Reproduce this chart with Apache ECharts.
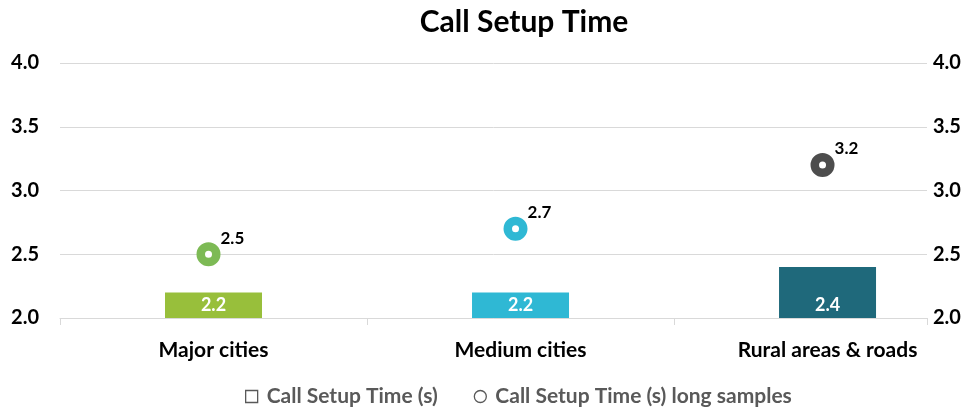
<!DOCTYPE html>
<html>
<head>
<meta charset="utf-8">
<script src="https://cdn.jsdelivr.net/npm/echarts@6/dist/echarts.min.js"></script>
<style>
  html, body { margin: 0; padding: 0; background: #fff; }
  #chart { width: 968px; height: 409px; }
</style>
</head>
<body>
<div id="chart"></div>
<script>
// data
var categories = ['Major cities', 'Medium cities', 'Rural areas & roads'];
var setupTime = [2.2, 2.2, 2.4];
var longSamples = [2.5, 2.7, 3.2];

var barColors = ['#98bf3b', '#2fb8d4', '#1f697b'];
var ringColors = ['#7dba55', '#2fb8d4', '#4d4d4d'];

var font = 'Lato';

var chart = echarts.init(document.getElementById('chart'));

// category slots are laid out on a value axis so the plot can end before the last slot does
var barData = setupTime.map(function (v, i) {
  return { value: [i, v], itemStyle: { color: barColors[i] } };
});
var dotData = longSamples.map(function (v, i) {
  return { value: [i, v], itemStyle: { borderColor: ringColors[i] } };
});

chart.setOption({
  animation: false,
  textStyle: { fontFamily: font },
  title: {
    text: 'Call Setup Time',
    left: 519,
    top: 2,
    textAlign: 'center',
    textStyle: { fontFamily: font, fontSize: 30, fontWeight: 'bold', color: '#000' }
  },
  grid: { left: 60, right: 41, top: 63, bottom: 91 },
  legend: {
    left: 240,
    top: 381,
    itemGap: 36,
    itemWidth: 12,
    itemHeight: 12,
    textStyle: {
      fontFamily: font, fontSize: 21, fontWeight: 'bold', color: '#595959',
      padding: [0, 0, 0, 4]
    },
    data: [
      { name: 'Call Setup Time (s)', icon: 'rect',
        itemStyle: { color: '#fff', borderColor: '#595959', borderWidth: 1.3 } },
      { name: 'Call Setup Time (s) long samples', icon: 'circle',
        itemStyle: { color: '#fff', borderColor: '#595959', borderWidth: 1.3 } }
    ]
  },
  xAxis: {
    type: 'value',
    min: -0.5,
    max: 2.324,
    splitLine: { show: false },
    axisLine: { show: true, lineStyle: { color: '#d9d9d9' } },
    axisTick: {
      show: true,
      length: 7,
      customValues: [-0.5, 0.5, 1.5, 2.324],
      lineStyle: { color: '#d9d9d9' }
    },
    axisLabel: {
      customValues: [0, 1, 2],
      margin: 22,
      fontFamily: font,
      fontSize: 21,
      fontWeight: 'bold',
      color: '#000',
      formatter: function (v) { return categories[Math.round(v)]; }
    }
  },
  yAxis: [
    {
      type: 'value', min: 2, max: 4, interval: 0.5, position: 'left',
      axisLine: { show: false }, axisTick: { show: false },
      splitLine: { lineStyle: { color: '#d9d9d9' } },
      axisLabel: {
        margin: 21, fontFamily: font, fontSize: 20, fontWeight: 'bold', color: '#000',
        formatter: function (v) { return v.toFixed(1); }
      }
    },
    {
      type: 'value', min: 2, max: 4, interval: 0.5, position: 'right',
      axisLine: { show: false }, axisTick: { show: false },
      splitLine: { show: false },
      axisLabel: {
        margin: 6, fontFamily: font, fontSize: 20, fontWeight: 'bold', color: '#000',
        formatter: function (v) { return v.toFixed(1); }
      }
    }
  ],
  series: [
    {
      name: 'Call Setup Time (s)',
      type: 'bar',
      barWidth: 97,
      data: barData,
      label: {
        show: true,
        position: 'insideBottom',
        distance: 4,
        fontFamily: font,
        fontSize: 18,
        fontWeight: 'bold',
        color: '#fff',
        formatter: function (p) { return p.value[1].toFixed(1); }
      }
    },
    {
      name: 'Call Setup Time (s) long samples',
      type: 'scatter',
      symbol: 'circle',
      symbolSize: 15.5,
      symbolOffset: [-5, 0],
      itemStyle: { color: '#fff', borderWidth: 8.5, opacity: 1 },
      data: dotData,
      label: {
        show: true,
        position: 'right',
        distance: 8,
        offset: [-8, -16],
        fontFamily: font,
        fontSize: 17,
        fontWeight: 'bold',
        color: '#000',
        formatter: function (p) { return p.value[1].toFixed(1); }
      }
    }
  ]
});
</script>
</body>
</html>
